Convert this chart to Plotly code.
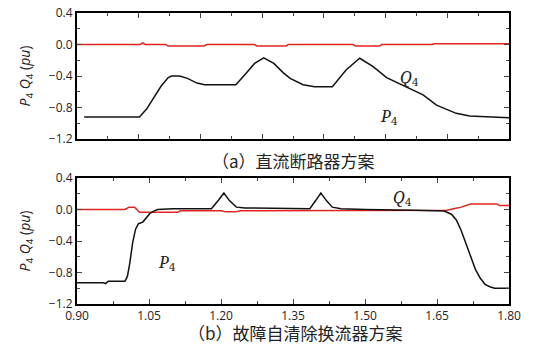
import plotly.graph_objects as go

# ---------------- data ----------------
# (a) DC breaker scheme
t_pa = [0.915, 1.03, 1.045, 1.06, 1.075, 1.09, 1.097, 1.114, 1.13, 1.15, 1.166, 1.20, 1.231,
        1.25, 1.27, 1.289, 1.31, 1.33, 1.344, 1.371, 1.395, 1.432, 1.461, 1.489, 1.517,
        1.545, 1.586, 1.621, 1.649, 1.69, 1.718, 1.76, 1.80]
p_a = [-0.92, -0.92, -0.82, -0.68, -0.53, -0.42, -0.40, -0.40, -0.43, -0.49, -0.51, -0.51, -0.51,
       -0.38, -0.24, -0.17, -0.24, -0.36, -0.43, -0.51, -0.535, -0.535, -0.32, -0.175, -0.28,
       -0.42, -0.535, -0.64, -0.77, -0.874, -0.908, -0.924, -0.93]
t_qa = [0.90, 1.032, 1.037, 1.042, 1.085, 1.09, 1.165, 1.17, 1.175, 1.27, 1.275, 1.335, 1.34,
        1.475, 1.48, 1.53, 1.535, 1.64, 1.645, 1.80]
q_a = [0.0, 0.0, 0.02, 0.0, 0.0, -0.02, -0.02, 0.0, 0.0, 0.0, -0.02, -0.02, 0.0,
       0.0, -0.02, -0.02, 0.0, 0.0, 0.01, 0.01]

# (b) fault self-clearing converter scheme
t_pb = [0.90, 0.955, 0.96, 0.965, 1.00, 1.005, 1.01, 1.016, 1.022, 1.028, 1.037, 1.045, 1.052,
        1.06, 1.068, 1.10, 1.18, 1.195, 1.206, 1.218, 1.232, 1.25, 1.385, 1.398, 1.408, 1.42,
        1.432, 1.45, 1.50, 1.60, 1.665, 1.68, 1.69, 1.70, 1.71, 1.72, 1.73, 1.74, 1.75, 1.76,
        1.77, 1.80]
p_b = [-0.93, -0.93, -0.94, -0.91, -0.91, -0.85, -0.68, -0.42, -0.25, -0.18, -0.16, -0.10, -0.05,
       -0.02, 0.0, 0.01, 0.01, 0.12, 0.21, 0.11, 0.03, 0.02, 0.01, 0.12, 0.21, 0.11,
       0.03, 0.01, 0.0, -0.01, -0.02, -0.06, -0.13, -0.26, -0.43, -0.61, -0.76, -0.87, -0.95, -0.98,
       -1.0, -1.0]
t_qb = [0.90, 1.0, 1.008, 1.02, 1.03, 1.11, 1.115, 1.20, 1.21, 1.23, 1.24, 1.40, 1.60, 1.67,
        1.685, 1.70, 1.72, 1.775, 1.78, 1.80]
q_b = [0.0, 0.0, 0.03, 0.03, -0.035, -0.035, -0.015, -0.015, -0.03, -0.03, -0.015, -0.01, -0.01, -0.01,
       0.01, 0.03, 0.07, 0.07, 0.05, 0.05]

x_ticks = [0.90, 1.05, 1.20, 1.35, 1.50, 1.65, 1.80]
x_labels = ["0.90", "1.05", "1.20", "1.35", "1.50", "1.65", "1.80"]
y_ticks = [-1.2, -0.8, -0.4, 0.0, 0.4]
y_labels = ["-1.2", "-0.8", "-0.4", "0.0", "0.4"]
n_top_intervals = 7  # unlabeled time axis of panel (a)

captions = ["（a）直流断路器方案", "（b）故障自清除换流器方案"]
y_title = "<i>P</i><sub>4</sub> <i>Q</i><sub>4</sub> (<i>pu</i>)"
curve_labels = ["<i>Q</i><sub>4</sub>", "<i>P</i><sub>4</sub>"]

BLACK = "black"
CURVE = "#111111"
RED = "#e3231f"

fig = go.Figure()
fig.add_trace(go.Scatter(x=t_pa, y=p_a, mode="lines", line=dict(color=CURVE, width=1.5),
                         xaxis="x", yaxis="y", showlegend=False))
fig.add_trace(go.Scatter(x=t_qa, y=q_a, mode="lines", line=dict(color=RED, width=1.5),
                         xaxis="x", yaxis="y", showlegend=False))
fig.add_trace(go.Scatter(x=t_qb, y=q_b, mode="lines", line=dict(color=RED, width=1.5),
                         xaxis="x2", yaxis="y2", showlegend=False))
fig.add_trace(go.Scatter(x=t_pb, y=p_b, mode="lines", line=dict(color=CURVE, width=1.5),
                         xaxis="x2", yaxis="y2", showlegend=False))

W, H = 537, 361
ML, MR, MT, MB = 77, 28, 13, 57
PH = H - MT - MB
PW = W - ML - MR

x_lo, x_hi = x_ticks[0], x_ticks[-1]
x_step = x_ticks[1] - x_ticks[0]
y_lo, y_hi = y_ticks[0], y_ticks[-1]
y_step = y_ticks[1] - y_ticks[0]
top_step = (x_hi - x_lo) / n_top_intervals

fig.update_layout(
    width=W, height=H, margin=dict(l=ML, r=MR, t=MT, b=MB, autoexpand=False),
    template="simple_white",
    xaxis=dict(anchor="y", range=[x_lo, x_hi], showticklabels=False, showline=True,
               linecolor=BLACK, linewidth=2, ticks="inside", mirror="ticks",
               tickmode="linear", tick0=x_lo, dtick=top_step,
               minor=dict(ticks="inside", ticklen=3, dtick=top_step / 2)),
    yaxis=dict(domain=[1 - 126 / PH, 1.0], anchor="x", range=[y_lo, y_hi], showline=True,
               linecolor=BLACK, linewidth=2, ticks="inside", mirror="ticks",
               tickmode="linear", tick0=0.0, dtick=y_step, tickformat=".1f",
               minor=dict(ticks="inside", ticklen=3, dtick=y_step / 2),
               title=dict(text=y_title)),
    xaxis2=dict(anchor="y2", range=[x_lo, x_hi], showline=True, linecolor=BLACK, linewidth=2,
                mirror="ticks", ticks="inside", tickmode="linear", tick0=x_lo, dtick=x_step,
                tickformat=".2f",
                minor=dict(ticks="inside", ticklen=3, dtick=x_step / 2)),
    yaxis2=dict(domain=[0.0, 126 / PH], anchor="x2", range=[y_lo, y_hi], showline=True,
                linecolor=BLACK, linewidth=2, mirror="ticks", ticks="inside",
                tickmode="linear", tick0=0.0, dtick=y_step, tickformat=".1f",
                minor=dict(ticks="inside", ticklen=3, dtick=y_step / 2),
                title=dict(text=y_title)),
)

# curve labels (pixel positions in the reference converted to paper coordinates)
def px(xp, yp):
    return (xp - ML) / PW, 1 - (yp - MT) / PH

label_pos = [(curve_labels[0], 421, 64), (curve_labels[1], 400, 116),
             (curve_labels[0], 414, 197), (curve_labels[1], 156, 276)]
for txt, xp, yp in label_pos:
    xx, yy = px(xp, yp)
    fig.add_annotation(xref="paper", yref="paper", x=xx, y=yy, text=txt, showarrow=False,
                       font=dict(family="Noto Serif, Liberation Serif", size=16, color="#222222"))

cx, cy = px(293, 160)
fig.add_annotation(xref="paper", yref="paper", x=cx, y=cy, text=captions[0],
                   showarrow=False, font=dict(family="Noto Sans CJK SC", size=17))
cx, cy = px(295, 347)
fig.add_annotation(xref="paper", yref="paper", x=cx, y=cy, text=captions[1],
                   showarrow=False, font=dict(family="Noto Sans CJK SC", size=17))

fig.write_html("out.html", config={"displayModeBar": False},
               post_script="document.body.style.margin='0';document.body.style.overflow='hidden';")
